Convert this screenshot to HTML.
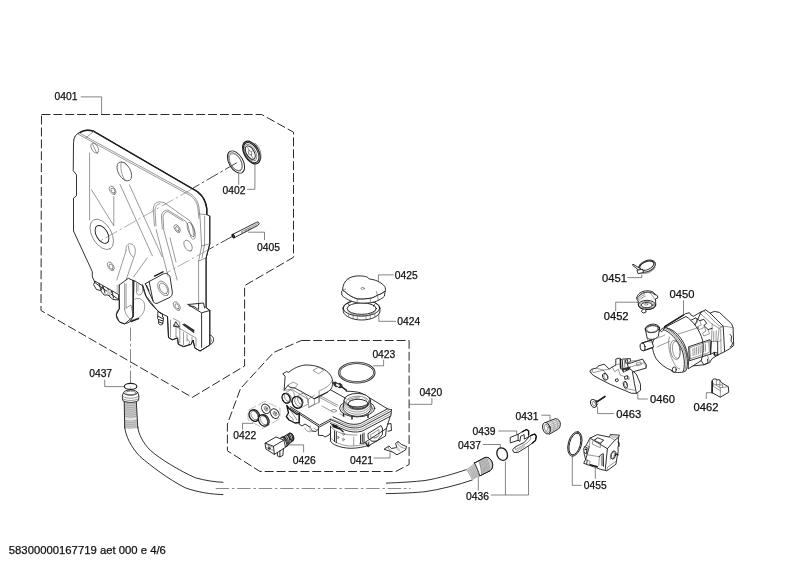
<!DOCTYPE html>
<html lang="en">
<head>
<meta charset="utf-8">
<title>Exploded parts diagram 58300000167719</title>
<style>
html,body{margin:0;padding:0;background:#fff;}
body{width:800px;height:566px;overflow:hidden;}
svg{display:block;filter:grayscale(1);}
svg text{font-family:"Liberation Sans",Arial,Helvetica,sans-serif;font-size:10.3px;fill:#111;stroke:#111;stroke-width:0.25px;}
.o{fill:none;stroke:#1a1a1a;stroke-width:0.9;stroke-linejoin:round;stroke-linecap:round;}
.w{fill:#fff;stroke:#1a1a1a;stroke-width:0.9;stroke-linejoin:round;stroke-linecap:round;}
.t{fill:none;stroke:#555;stroke-width:0.6;stroke-linejoin:round;stroke-linecap:round;}
.tw{fill:#fff;stroke:#555;stroke-width:0.6;stroke-linejoin:round;}
.k{fill:none;stroke:#1c1c1c;stroke-width:1.45;stroke-linejoin:round;stroke-linecap:round;}
.g{fill:#cdcdcd;stroke:none;}
.dk{fill:#333;stroke:none;}
.d{fill:none;stroke:#2a2a2a;stroke-width:1;stroke-dasharray:8.9 3;}
.c{fill:none;stroke:#4a4a4a;stroke-width:0.65;stroke-dasharray:13.4 2.8 2.5 2.8;}
.cl{fill:none;stroke:#777;stroke-width:0.6;stroke-dasharray:13.4 2.8 2.5 2.8;}
.l{fill:none;stroke:#333;stroke-width:0.6;}
.wf{fill:#fff;stroke:none;}
.k2{fill:none;stroke:#111;stroke-width:1.3;stroke-linejoin:round;}
.hx{fill:none;stroke:#888;stroke-width:0.55;stroke-dasharray:9 2.5;}
.tl{fill:none;stroke:#888;stroke-width:0.5;}
.t2{fill:none;stroke:#333;stroke-width:0.7;}
.k1{fill:none;stroke:#111;stroke-width:1.1;}
.cd{fill:none;stroke:#222;stroke-width:0.85;stroke-dasharray:13.4 2.8 2.5 2.8;}
.cl0{fill:none;stroke:#999;stroke-width:0.5;}
</style>
</head>
<body>
<svg width="800" height="566" viewBox="0 0 800 566">
<rect x="0" y="0" width="800" height="566" fill="#fff"/>
<path class="d" d="M41.5,114.5 L261.7,114.5 L293.5,132.2 L293.5,257.3 L244.6,285.6 L244.6,366.0 L192.3,397.4 L41.0,310.5 Z"/>
<path class="d" d="M301.4,340.5 L409.1,340.5 L409.1,464.5 L395.7,471.5 L260.0,471.5 L227.4,450.8 L227.4,424.0 L240.5,388.6 L273.6,352.5 Z"/>
<text x="54.5" y="99.9">0401</text>
<text x="222.5" y="194.3">0402</text>
<text x="257.0" y="251.3">0405</text>
<text x="89.2" y="377.3">0437</text>
<text x="233.3" y="439.4">0422</text>
<text x="292.8" y="463.8">0426</text>
<text x="350.1" y="463.5">0421</text>
<text x="372.4" y="358.4">0423</text>
<text x="419.4" y="395.7">0420</text>
<text x="394.8" y="278.5">0425</text>
<text x="397.3" y="325.3">0424</text>
<text x="515.5" y="419.7">0431</text>
<text x="472.6" y="435.3">0439</text>
<text x="458.0" y="448.6">0437</text>
<text x="466.0" y="500.0">0436</text>
<text x="583.8" y="488.9">0455</text>
<text x="602.0" y="281.9" style="font-size:11.2px">0451</text>
<text x="669.5" y="297.7" style="font-size:11.2px">0450</text>
<text x="603.7" y="319.8" style="font-size:11.2px">0452</text>
<text x="650.1" y="403.3" style="font-size:11.2px">0460</text>
<text x="616.3" y="417.8" style="font-size:11.2px">0463</text>
<text x="693.6" y="410.8" style="font-size:11.2px">0462</text>
<text x="8.8" y="554.2" style="font-size:11.3px">58300000167719 aet 000 e 4/6</text>
<path class="l" d="M80.8,96.9 L101.6,96.9 L101.6,113.9"/>
<path class="l" d="M238.7,173.3 L238.7,184.8"/>
<path class="l" d="M254.9,163.5 L254.9,189.3 L247.2,189.3"/>
<path class="l" d="M248.1,232.2 L264.5,232.2 L264.5,239.9"/>
<path class="l" d="M104.7,379.8 L104.7,386.6 L124.0,386.6"/>
<path class="l" d="M242.5,429.6 L242.5,423.3 L253.0,423.3"/>
<path class="l" d="M287.3,444.9 L303.6,444.9 L303.6,452.4"/>
<path class="l" d="M373.6,458.0 L390.0,458.0 L390.0,452.4"/>
<path class="l" d="M383.6,359.6 L383.6,365.8 L373.0,365.8"/>
<path class="l" d="M409.5,404.3 L431.9,404.3 L431.9,398.1"/>
<path class="l" d="M393.8,274.9 L378.4,274.9 L378.4,282.8"/>
<path class="l" d="M396.0,321.3 L378.8,321.3 L378.8,311.9"/>
<path class="l" d="M541.3,415.2 L550.0,415.2 L550.0,420.2"/>
<path class="l" d="M498.4,431.0 L516.7,431.0 L516.7,434.7"/>
<path class="l" d="M482.8,444.5 L500.4,444.5 L500.4,448.5"/>
<path class="l" d="M490.8,495.0 L528.5,495.0 L528.5,442.8"/>
<path class="l" d="M505.4,495.0 L505.4,461.6"/>
<path class="l" d="M478.3,475.4 L478.3,490.5"/>
<path class="l" d="M572.3,455.9 L572.3,485.3 L581.6,485.3"/>
<path class="l" d="M595.3,467.9 L595.3,478.8"/>
<path class="l" d="M627.3,277.6 L641.8,277.6 L641.8,274.6"/>
<path class="l" d="M683.5,300.2 L683.5,315.3"/>
<path class="l" d="M615.7,311.0 L615.7,302.2 L638.3,302.2"/>
<path class="l" d="M647.8,399.0 L637.8,399.0 L637.8,392.7"/>
<path class="l" d="M614.0,413.6 L597.6,413.6 L597.6,406.5"/>
<path class="l" d="M706.3,399.0 L706.3,392.7 L713.1,392.7"/>
<path class="w" d="M73.5,142.5 C73.5,136 77,133.5 80.3,132.3 C84,130 88,129.3 93.8,131.3 L191.8,188.3 C199,191.5 205.5,198 206.8,208.6 L206.8,214.6 L209.8,216.1 L209.8,243.8 L206.1,258 L206.1,307.5 L209.8,310.5 L209.8,345 L200.1,351 L194.8,348 L193,340 L191.1,344.3 L183.6,346.6 L178.3,344.3 L177.5,338 L172.3,339.8 L168.5,337.6 L167.5,316.5 L160,313 L156.1,309 L146,296 L143,286 L134,280.5 L133.1,316.6 L124.6,324 L119.3,321.8 L116.3,315 L119.3,309 L119.3,300 L95.3,283 L92.3,276.8 L92.3,271.6 L73.5,231 L73.5,198.1 L76.5,195.8 L76.5,174.8 L73.5,171 Z"/>
<path class="k" d="M80.3,132.3 C84,130 88,129.3 93.8,131.3 L191.8,188.3 C199,191.5 205.5,198 206.8,208.6 L206.8,214.6"/>
<path class="o" d="M209.8,216.1 L209.8,243.8 L206.1,258 L206.1,307.5"/>
<path class="t" d="M73.5,142.5 C74,137.5 76,134 79,132.8 L191.1,194.2 C196,197.5 198.8,203 199.3,210 L200.1,218.3 L201.6,246 L198.6,261 L198.6,304"/>
<path class="t" d="M78.2,134.2 L190.3,195.6 C195,198.5 197.6,204 198.1,210 L198.9,218.3"/>
<path class="t" d="M93.8,131.3 L86,137.8"/>
<path class="t" d="M204.6,216 L204.6,244 L202,258"/>
<path class="t" d="M199.3,214 L206.8,214.6 M201.6,246 L209.8,243.8 M198.6,261 L206.1,258"/>
<ellipse class="t" rx="5.50" ry="3.17" transform="translate(94.8,148.2) rotate(60)"/>
<path class="t" d="M92.5,144 L96.5,152.5"/>
<ellipse class="t2" rx="10.40" ry="6.00" transform="translate(124.3,171.4) rotate(60)"/>
<path class="t" d="M121.5,162 C120,167 121,175 125.5,181 M124.5,162.5 L127.5,165.5"/>
<ellipse class="t" rx="4.60" ry="2.65" transform="translate(112.6,190.3) rotate(60)"/>
<ellipse class="t" rx="2.80" ry="1.62" transform="translate(113.0,190.6) rotate(60)"/>
<ellipse class="t" rx="16.70" ry="9.64" transform="translate(101.8,234.4) rotate(60)"/>
<ellipse class="o" rx="9.80" ry="5.65" transform="translate(102.0,234.4) rotate(60)"/>
<ellipse class="t" rx="4.70" ry="2.71" transform="translate(110.8,266.3) rotate(60)"/>
<ellipse class="t" rx="2.80" ry="1.62" transform="translate(111.1,266.6) rotate(60)"/>
<ellipse class="t" rx="4.30" ry="2.48" transform="translate(177.1,228.6) rotate(60)"/>
<ellipse class="t" rx="2.50" ry="1.44" transform="translate(177.3,228.8) rotate(60)"/>
<ellipse class="t" rx="6.00" ry="3.46" transform="translate(188.1,245.7) rotate(60)"/>
<ellipse class="t" rx="7.50" ry="3.20" transform="translate(191.1,229.5) rotate(70)"/>
<ellipse class="t" rx="4.80" ry="2.77" transform="translate(176.8,306.1) rotate(60)"/>
<ellipse class="t" rx="2.80" ry="1.62" transform="translate(177.0,306.3) rotate(60)"/>
<path class="t" d="M89.6,153 L89.6,219.8"/>
<path class="t" d="M91.5,189.8 L113.8,225.8 L113.8,196.5"/>
<path class="t" d="M120.1,184.6 L152.4,255.8"/>
<path class="t" d="M129.4,184.9 L162.1,256.6"/>
<path class="t" d="M147.1,258.1 L133.6,276.9"/>
<path class="t" d="M156.1,229.5 L168.1,276.1 M163.6,229.5 L177.2,280 M170,238 L176,262"/>
<path class="t" d="M154.5,226 L153.2,210 C153.4,204.5 156,202 159.5,201.8 L164,202.5 L189.6,220.6 C192,223 193,227 193.5,235 M156,226 L155,210.5 C155.2,206 157.5,204 160,203.8"/>
<path class="t" d="M162.3,229 L161.4,216 C162,212 164,210.6 167.8,210 L183.6,219.8 C186,221 188,224 188.5,227.5 L190.3,235 C191,239 193.5,240.5 195,238 C196,234 194,229 191,224"/>
<path class="t" d="M163.8,229 L163,217 C163.5,213.5 165,212 168,211.6 L183,221"/>
<path class="t" d="M126.1,250.6 C125.5,246 127.5,243.5 130.8,243.8 C134,244.3 136,248 135.1,253.6 L126.1,280 M126.1,250.6 L116.8,280 M128.5,246 C128.3,250 130,254.5 133,257"/>
<g transform="translate(0,1.8)">
<path class="o" d="M149.5,279.5 L163.5,272 C167,271 169,272.5 170,275 L172.3,290 C172.5,293 171.5,295 169,296 L157,301.6 C155,302 153.5,301 153,299 Z"/>
<path class="o" d="M145.3,282 L149.5,279.5 M145.3,282 L153,299 M146.5,283.5 L149,289"/>
<path class="k" d="M154.5,274.3 L163,270 "/>
<ellipse class="t" rx="8.00" ry="4.62" transform="translate(163.3,286.6) rotate(60)"/>
<ellipse class="t" rx="5.80" ry="3.35" transform="translate(163.5,286.6) rotate(60)"/>
</g>
<path class="o" d="M95.3,281.3 L118.6,294.5 L118.6,300 L113,299.5 L108,295 L104,295 L100.5,290.5 L96.5,289.5 L93.8,285 Z"/>
<path class="o" d="M99,283.5 L101,290.5 L103,286 L105,293 M108,288.5 L109.5,295.5 L112,291 L113.5,298"/>
<path class="g" d="M116.5,284.5 L119.3,285 L119.3,293.5 L116.5,292.5 Z M107,289 L111,291.5 L111,296 L107,294 Z"/>
<path class="o" d="M119.3,285 L119.3,309 C116,311 115.5,316 117.5,319.5 C120,323.5 125,325 129.8,321.8 L133.1,316.6"/>
<path class="o" d="M119.3,285 L128.3,278.3 L133.1,280.5"/>
<path class="k" d="M133.1,280.5 L133.1,316.6"/>
<path class="t" d="M124.6,283.5 L124.6,309 M126.1,284 L126.1,308 M124.6,309 C125,313 127,316.5 130,319 M126.1,308 L131,305 L133,315"/>
<path class="t" d="M133.5,300 C136,297.5 141,298 143.5,301.5 C145.5,305 145,311 142,314.5 C139.5,318 135,319.5 132,320"/>
<path class="k" d="M131,321.5 L138.5,318.6"/>
<path class="t" d="M136.5,283.5 L136.5,292.5 C137,295 139.5,295.5 141,294.5 L142.6,292 L142.6,285 M138,284.5 L138,291"/>
<path class="o" d="M142.6,285 C144,296 150,304 156.1,309 L160,313"/>
<path class="o" d="M158.2,311.5 L162.5,313.8 L162.5,317 L163.6,317.5 L163.2,321 L162.5,324.3 C161.5,325.3 159.5,325 158.8,323.8 L158.4,319.5 L157.6,318.5 L157.8,314 Z"/>
<path class="o" d="M158.4,316.5 L162.5,318.5 M158.5,319.5 L163,321 M158.7,322 L162.8,323.3"/>
<path class="o" d="M167.5,316.5 L168.5,337.6 L172.3,339.8 L177.5,338 L178.3,344.3 L183.6,346.6 L191.1,344.3 L193,340 L194.8,348 L200.1,351 L209.8,345 L209.8,310.5"/>
<path class="o" d="M201.6,313.5 L201.6,347.3 M188,304.5 L201.6,312.8 L209.8,310.5 M206.1,307.5 L209.8,310.5"/>
<path class="o" d="M188,304.5 L203.5,303 L204.6,308 M189.5,306 C193,305.5 196,307 198,309.5 M198.6,304 L198.6,309"/>
<path class="t" d="M170.5,320 L170.5,337 M173.5,318.5 L179.8,322 L179.8,343 M176,324.5 L176,337 M183.5,332.5 L183.5,345 M179.8,328.6 L196,338 L196,346 M173.5,325 L179.8,328.6 M187,334.5 L187,341 M192,337 L192,343"/>
<path class="dk" d="M182,324.6 L184.5,323.6 L194.5,330 L194,333.2 Z"/>
<path class="o" d="M176,322 L179.3,327 L173.8,326.3 Z"/>
<path class="t" d="M176,336.5 C178,337 178.5,339.5 177,341 M187.5,339.5 C190,340 190.3,343.5 188,345"/>
<path class="o" d="M209.8,335 C213,335.5 214.5,339 213,342 C212,344 210.5,344.5 209.8,344"/>
<path class="t" d="M209.8,338 C211.5,338.5 212,340.5 211,342"/>
<path class="cd" d="M236.7,162.8 L192,188.7"/>
<path class="cl" d="M192,189 L99,241.6"/>
<path class="cd" d="M232.6,236.3 L208.3,249.7"/>
<path class="cl" d="M208.3,249.7 L166.3,273"/>
<path class="c" d="M130.5,327.6 L130.5,387.5"/>
<path class="c" d="M215.7,488.5 L410.7,488.5"/>
<path class="o" d="M124.7,427 C125.5,436 131,447 140,456.5 C151,466 168,479 185.3,487.8 C198,492.5 212,494.3 223,494.6 M137.8,427 C138.5,434 143,443 150.2,450.2 C160,459 180,471 195.4,477.8 C205,480.5 215,482 223,482.3"/>
<path class="g" d="M124.2,402 L136.3,402 L137.8,428 L124.7,428 Z"/>
<path class="tl" d="M124.3,403.0 Q130.5,404.6 136.6,403.0"/>
<path class="tl" d="M124.3,404.9 Q130.5,406.5 136.6,404.9"/>
<path class="tl" d="M124.3,406.8 Q130.5,408.4 136.6,406.8"/>
<path class="tl" d="M124.3,408.7 Q130.5,410.3 136.6,408.7"/>
<path class="tl" d="M124.3,410.6 Q130.5,412.2 136.6,410.6"/>
<path class="tl" d="M124.3,412.5 Q130.5,414.1 136.6,412.5"/>
<path class="tl" d="M124.3,414.4 Q130.5,416.0 136.6,414.4"/>
<path class="tl" d="M124.3,416.3 Q130.5,417.9 136.6,416.3"/>
<path class="tl" d="M124.3,418.2 Q130.5,419.8 136.6,418.2"/>
<path class="tl" d="M124.3,420.1 Q130.5,421.7 136.6,420.1"/>
<path class="tl" d="M124.3,422.0 Q130.5,423.6 136.6,422.0"/>
<path class="tl" d="M124.3,423.9 Q130.5,425.5 136.6,423.9"/>
<path class="tl" d="M124.3,425.8 Q130.5,427.4 136.6,425.8"/>
<path class="tl" d="M124.3,427.7 Q130.5,429.3 136.6,427.7"/>
<path d="M124.3,417 Q130.5,419.5 136.9,417 L137,419.3 Q130.5,421.8 124.4,419.3 Z" fill="#e8e8e8"/>
<path class="o" d="M124.2,401 L124.7,428 M136.3,401 L137.8,428"/>
<path class="w" d="M123.7,392.6 C122,394.5 122,397.5 122.8,400.5 C126,403 135,403 138.4,400.5 C139.2,397.5 139.2,394.5 137.7,392.6"/>
<ellipse class="w" cx="130.7" cy="392.6" rx="7" ry="2.6"/>
<ellipse class="t" cx="130.7" cy="392.9" rx="5.2" ry="1.7"/>
<path class="t" d="M122.3,396.5 Q130.5,400.3 138.9,396.5 M122.6,398.8 Q130.5,402.5 138.6,398.8"/>
<ellipse cx="130.6" cy="386.4" rx="6.3" ry="3.0" fill="none" stroke="#1a1a1a" stroke-width="1.1"/>
<path class="o" d="M386.4,483.1 C400,482.6 415,481.7 425,480.5 C438,478.5 455,473.5 466.3,469.6 M386.4,493.6 C402,493.4 416,492.6 425,491.7 C440,489.5 458,485 472.3,480"/>
<path class="g" d="M466.3,469.6 L474.5,463 L480,475.9 L472.3,480 Z"/>
<path class="tl" d="M466.3,469.6 Q471.1,475.4 472.3,480.0"/>
<path class="tl" d="M467.9,468.3 Q472.6,474.4 473.6,479.3"/>
<path class="tl" d="M469.5,467.1 Q474.0,473.4 474.9,478.5"/>
<path class="tl" d="M471.1,465.8 Q475.4,472.4 476.1,477.8"/>
<path class="tl" d="M472.8,464.5 Q476.9,471.4 477.4,477.1"/>
<path class="tl" d="M474.4,463.3 Q478.4,470.4 478.7,476.3"/>
<path class="tl" d="M476.0,462.0 Q479.8,469.4 480.0,475.6"/>
<path class="w" d="M474.5,463 L485,457.5 C489,456.5 492,460 492.7,464.5 C493,468 491,471 488,471.8 L479.8,475.9 C478.5,471.5 476.5,467 474.5,463 Z"/>
<path class="g" d="M479.5,461 L485.8,458 C489.5,457.5 492,461 492.3,465 C492.4,468 491,470.5 488,471.3 L482.2,474 Z"/>
<path class="tl" d="M479.5,460.8 Q483.2,468.4 482.3,474.3"/>
<path class="tl" d="M480.7,460.3 Q484.4,467.8 483.5,473.8"/>
<path class="tl" d="M481.8,459.7 Q485.6,467.3 484.7,473.3"/>
<path class="tl" d="M483.0,459.2 Q486.8,466.8 485.9,472.8"/>
<path class="tl" d="M484.2,458.7 Q487.9,466.3 487.1,472.2"/>
<path class="tl" d="M485.3,458.1 Q489.1,465.7 488.3,471.7"/>
<path class="tl" d="M486.5,457.6 Q490.3,465.2 489.5,471.2"/>
<path class="o" d="M474.5,463 L485,457.5 C489,456.5 492,460 492.7,464.5 C493,468 491,471 488,471.8 L479.8,475.9"/>
<path class="t" d="M478.6,460.8 C480.5,465 481.5,470 481.5,474.8"/>
<ellipse rx="5.1" ry="6.5" transform="translate(502.2,454.1) rotate(-25)" fill="none" stroke="#1a1a1a" stroke-width="1.3"/>
<ellipse cx="356.8" cy="372.6" rx="17.6" ry="9.8" fill="none" stroke="#222" stroke-width="2.3"/>
<ellipse cx="356.8" cy="372.6" rx="17.6" ry="9.8" fill="none" stroke="#fff" stroke-width="0.7"/>
<path class="wf" d="M330.5,389.3 L346.1,391.2 L360.2,392.7 L365.3,395.2 L387.4,408.8 L391.5,409.8 L390.8,416 L358.5,431.5 C352,432 346,430 330.5,423 L319.4,427 L290.2,408.2 L290.2,400 Z"/>
<path class="o" d="M346.1,391.2 C352,391.3 357,391.8 360.2,392.7 L365.3,395.2 L387.4,408.8 L391.5,409.8"/>
<path class="o" d="M387.4,408.8 L361,423.2 C356,425 350,424.5 345.1,422.5 L333,416.8"/>
<path class="t" d="M389,410.2 L361.5,425 C356,427 350,426.3 345.1,424.2 L331,418.8"/>
<path class="o" d="M390.5,411.5 L361.8,426.8 C356,428.8 350,428 345,426 L330.5,419.5"/>
<path class="t" d="M391.2,413.5 L362,429 C356,430.8 350,430 345,428 L330.5,422"/>
<path class="o" d="M391.5,409.8 L390.8,416 L362,431.2 C356,432.8 350,432 345,430 L330.5,423.5"/>
<path class="t" d="M319.4,397.3 L336.5,406.4 M320.4,396 L338,405.3"/>
<ellipse class="t" cx="334" cy="410.8" rx="2.4" ry="1.4"/>
<path class="t" d="M322,406 L332,411.5 M340,414 L345,416.5"/>
<ellipse class="w" cx="357.2" cy="408.3" rx="17.6" ry="8.6"/>
<ellipse class="t" cx="357.2" cy="408.6" rx="15.6" ry="7.4"/>
<path class="w" d="M344.1,400.2 L343.2,408.5 C345,414 352,416.3 357.2,416.3 C363,416.3 369.5,414 371.2,408.5 L370.3,400.2 Z"/>
<path class="t" d="M343.6,404 C346,410 352,412 357.2,412 C363,412 368.5,410 370.8,404 M343.3,406.3 C346,412.2 352,414.2 357.2,414.2 C363,414.2 368.5,412.2 371,406.3 M343.9,402 C346,408 352,409.8 357.2,409.8 C363,409.8 368.5,408 370.6,402"/>
<ellipse class="w" cx="357.2" cy="400.2" rx="13.1" ry="6.8"/>
<ellipse class="t" cx="357.6" cy="401.6" rx="11.3" ry="5.5"/>
<path class="o" d="M347.5,404.5 C349,408 353,409.2 358.2,409.2 C363,409.2 367,407.5 368.3,404.6"/>
<ellipse class="o" cx="358.2" cy="403.8" rx="10" ry="4.5"/>
<path class="t" d="M348.5,399.5 L359,396.6 M349,400.8 L359.5,397.9 M365,398.5 L366.5,400.5"/>
<path class="k" d="M343.5,414 L343.5,416 M352,417 L352,419 M368,415.2 L368,417.4"/>
<path class="w" d="M283.1,373.6 L286.6,371.6 L288.8,372.3 C293,368.5 300,365.2 306,365 C316,364.8 326,368.5 330.5,375.2 C333,379 333.2,384 331.8,387.5 L330.5,389.8 C326,393.5 320,396.5 314.3,398.8 L295.2,388.2 L290.2,387.5 L288.1,385.2 L284.1,390.3 L285.1,376.7 Z"/>
<path class="t" d="M331.8,381 C331,384.5 326,388 320,390.5 M319.1,390.8 L319.1,402.4"/>
<path class="t" d="M313.3,370.1 L318.4,367.3 L323.9,370.1 L318.9,373.6 Z"/>
<path class="t" d="M288.1,385.0 L293.2,382.0 L297.7,384.4 L295.2,387.7 L290.2,387.2 Z"/>
<path class="o" d="M314.3,398.8 L319.4,395.8 L327.5,392.2 M330.5,389.8 L346,398.5"/>
<path class="t" d="M284.1,390.3 L291.7,389.3 L308.3,399.3 L308.8,407.4 L314.5,404 L314.3,398.8 M308.3,399.3 L314.3,395.5 M308.8,407.4 L319.1,402.4 L319.1,396"/>
<path class="dk" d="M332.5,382.2 L335.5,381.5 L338,383.2 L340,382.8 L342.6,385 L341.8,388 L339,388.2 L337.5,387 L335.5,387.2 L333.5,385 Z"/>
<path d="M336.5,383.5 L339.8,385.2 L339,387 L335.8,385.3 Z" fill="#fff"/>
<path class="k" d="M341.8,386.8 L346.5,390.3"/>
<path class="t" d="M284.6,393.6 L290.5,389.8 M288.3,403.2 L293.5,400 M295.5,396.8 L302.5,393.3 M300,408.2 L307.8,404.2"/>
<path class="t" d="M290.5,389.8 C293.5,390.5 295,394 294.3,397.2 M302.5,393.3 C306,394 308.2,398 307.6,402.5"/>
<ellipse class="w" cx="286.1" cy="398.3" rx="3.8" ry="5" transform="rotate(-25 286.1 398.3)"/>
<ellipse class="k1" cx="286.1" cy="398.3" rx="3.8" ry="5" transform="rotate(-25 286.1 398.3)"/>
<ellipse class="t" cx="287.8" cy="397.3" rx="3.0" ry="4.3" transform="rotate(-25 287.8 397.3)"/>
<ellipse class="w" cx="297.2" cy="402.4" rx="5" ry="6" transform="rotate(-25 297.2 402.4)"/>
<ellipse class="k1" cx="297.2" cy="402.4" rx="5" ry="6" transform="rotate(-25 297.2 402.4)"/>
<ellipse class="t" cx="298.9" cy="401.4" rx="4.0" ry="5.1" transform="rotate(-25 298.9 401.4)"/>
<ellipse class="t" cx="300.3" cy="400.7" rx="2.2" ry="3.8" transform="rotate(-25 300.3 400.7)"/>
<path class="k2" d="M286.8,405.5 L289.5,409 L297,414.5 L299.2,413.5 L299.2,422.5 L295,423 L289,420 L286.3,416.5 L288.5,413 Z"/>
<path class="t" d="M289,415.5 L293,418.5 L293,421.5 M290.3,410 L297,420"/>
<path class="o" d="M290.2,406.6 L319.4,425.2 L330.5,419.2 M290.2,408.2 L319.4,427 L330.5,421"/>
<path class="o" d="M299.2,413.1 L299.2,424.2 L302,426 L305,424 L310.5,427.5 L312,431 L316,431.5 L318.4,429 M318.4,426.2 L318.4,435.3 L323,435.6 L325,437 L329,435 L330.5,433"/>
<path class="t" d="M305,428.5 C306,431 309,432.5 311.5,431.5 M310.3,426 L310.3,430.5 M313.8,428.2 L316.8,430"/>
<path class="g" d="M309.5,427 L311.5,428 L311.5,431.5 L309.5,430.5 Z"/>
<path class="o" d="M330.5,426.2 L330.5,441 C332,444.5 340,447.8 350.2,448.3 C358,448.3 364,447 368.3,445.3 L369,442"/>
<path class="t" d="M331.5,438.5 C334,442.5 342,445.5 350.2,446 C358,446 364,444.8 367.5,443 M353.7,437.2 L353.7,445.5 M331,427 C336,432.5 345,435.5 357,435"/>
<path class="o" d="M334.5,431 L334.5,441.5 M336.3,432 L336.3,442.8"/>
<path class="k" d="M333,426.5 L340,429 L343,431.5 M332,424.8 L337,426.2"/>
<ellipse class="t" cx="338" cy="437.5" rx="0.9" ry="1.3"/>
<ellipse class="t" cx="343.5" cy="434" rx="0.9" ry="1.3"/>
<ellipse class="t" cx="343.3" cy="439.5" rx="0.9" ry="1.3"/>
<path class="o" d="M390.2,416.5 L386.4,428.5 L364,443 L360,443.5 M386.4,428.5 L385.5,436 L369,445.5"/>
<path class="o" d="M368.3,433.5 L381,425.5 L382.4,428 L382.4,434.5 L377,441 L372,441.3 L368.5,438.5 Z"/>
<path class="t" d="M371,434.5 L379,429.5 L379,435.5 L375,438 L371,437.5 Z M373,436.5 C374,438.5 377,438.5 377.8,436.5"/>
<path class="o" d="M360.5,435 L360.5,443 M362.3,434 L362.3,442 M364,433 L364,443"/>
<path class="o" d="M387.4,424.1 L391,423.5 L391.5,430.5 L388,431.2"/>
<path class="k" d="M366,443 L368,446.5 L369.5,445.5"/>
<path class="o" d="M384.4,449 L389,446 L391.5,448.5 L397,447.5 L395.5,443.5 L398,441.5 L401.5,444.5 L406.6,446.5 L405.5,450 L397,454.8 L393,452.3 Z"/>
<path class="t" d="M389,446 L388.2,448.2 L392.5,452 M397,447.5 L399.5,450.8 M398,441.5 L397.5,443.8 L400.5,447 L405,448.5"/>
<path class="g" d="M396,447.7 L398.5,447.2 L400.5,450.3 L398,451 Z"/>
<ellipse class="o" rx="12.2" ry="7.05" transform="translate(236,162) rotate(60)"/>
<ellipse class="t" rx="10" ry="5.6" transform="translate(235.3,161.7) rotate(60)"/>
<ellipse class="t" rx="9.6" ry="5.2" transform="translate(235.8,162.3) rotate(60)"/>
<ellipse class="w" rx="12.4" ry="7.3" transform="translate(251.5,152.6) rotate(60)" style="stroke-width:1.2"/>
<ellipse class="o" rx="11.0" ry="6.3" transform="translate(251.2,152.6) rotate(60)"/>
<ellipse class="t" rx="9.2" ry="5.0" transform="translate(250.6,152.6) rotate(60)"/>
<ellipse class="o" rx="7.4" ry="3.9" transform="translate(250.3,152.6) rotate(60)"/>
<ellipse class="t" rx="2.6" ry="1.4" transform="translate(250.1,152.8) rotate(60)"/>
<path class="t" d="M247.5,147 L249.3,151 M252.8,158 L251,154.5 M247,155.2 L249,153.6 M253.3,150.3 L251.3,151.8"/>
<path class="t" d="M254,143.5 C258,146.5 260.5,152 260,158 M255.2,143.2 C259.3,146.5 261.6,152 261,158.5"/>
<path class="w" d="M232.2,234.6 L256.6,222.3 C258.2,221.7 259.4,222.6 259.1,223.8 C258.9,224.6 258.3,225.2 257.5,225.6 L234.4,237.7 Z"/>
<path class="t" d="M241.6,231.8 L257.5,223.6 M241.9,233.2 L258.4,224.7 M241.6,231.8 L241.9,233.4 M245,230.2 L245.6,231.2 M246.6,229.4 L247.2,230.4 M248.2,228.6 L248.8,229.6 M249.8,227.8 L250.4,228.8"/>
<ellipse class="k2" rx="0.9" ry="1.7" transform="translate(233.3,236.1) rotate(-25)"/>
<path class="hx" d="M248.1,410.3 L265.0,401.3 L280.0,408.4 L280.0,418.5 L263.1,428.3 L248.1,420.0 Z"/>
<ellipse class="w" rx="4.0" ry="5.8" transform="translate(255.29999999999998,415.0) rotate(-30)" style="stroke-width:1.1"/>
<ellipse class="w" rx="4.3" ry="6.0" transform="translate(253.79999999999998,415.7) rotate(-30)" style="stroke-width:1.25"/>
<ellipse class="t" rx="3.1" ry="4.8" transform="translate(254.6,415.4) rotate(-30)"/>
<ellipse class="w" rx="4.0" ry="5.8" transform="translate(264.7,419.9) rotate(-30)" style="stroke-width:1.1"/>
<ellipse class="w" rx="4.3" ry="6.0" transform="translate(263.2,420.59999999999997) rotate(-30)" style="stroke-width:1.25"/>
<ellipse class="t" rx="3.1" ry="4.8" transform="translate(264.0,420.29999999999995) rotate(-30)"/>
<ellipse class="o" rx="3.9" ry="5.1" transform="translate(265.8,408.8) rotate(-30)"/>
<ellipse class="t" rx="1.6" ry="2.5" transform="translate(266.0,408.8) rotate(-30)"/>
<ellipse class="t" rx="0.7" ry="1.2" transform="translate(266.0,408.8) rotate(-30)"/>
<ellipse class="o" rx="3.9" ry="5.1" transform="translate(274.8,413.6) rotate(-30)"/>
<ellipse class="t" rx="1.6" ry="2.5" transform="translate(275.0,413.6) rotate(-30)"/>
<ellipse class="t" rx="0.7" ry="1.2" transform="translate(275.0,413.6) rotate(-30)"/>
<path class="g" d="M282.9,437.2 L289.5,433.2 C292.5,433 294,436 293.5,440.3 L287.5,445.3 Z"/>
<path class="o" d="M282.9,437.2 L289.5,433.2 C292.5,433 294.2,436 293.5,440.3 L287.5,445.3"/>
<ellipse class="o" rx="2.1" ry="3.7" transform="translate(291.3,436.8) rotate(-25)"/>
<path class="o" d="M284.0,436.6 C286.2,438.6 287.2,441.6 286.8,444.6"/>
<path class="o" d="M285.5,435.7 C287.7,437.7 288.7,440.7 288.3,443.7"/>
<path class="o" d="M287.0,434.8 C289.2,436.8 290.2,439.8 289.8,442.8"/>
<path class="o" d="M288.5,433.9 C290.7,435.9 291.7,438.9 291.3,441.9"/>
<path class="o" d="M290.0,433.0 C292.2,435.0 293.2,438.0 292.8,441.0"/>
<ellipse class="w" rx="2.4" ry="5.2" transform="translate(284.6,441.6) rotate(-25)"/>
<ellipse class="w" rx="2.4" ry="5.2" transform="translate(283.6,442.2) rotate(-25)"/>
<path class="w" d="M265.3,443.1 L275.9,437.0 L283.9,440.1 L285.5,447.3 L274.4,454.4 L266.3,449.3 Z"/>
<path class="o" d="M265.3,443.1 L273.4,446.3 L274.4,454.4 M273.4,446.3 L283.9,440.1"/>
<path class="o" d="M277.4,452.6 L277.4,455.9 L279.9,456.9 L282.9,455.4 L283.4,448.8 M279.9,456.9 L279.9,451"/>
<path class="t" d="M266.2,447.5 L273.6,450.5 M268.5,446.2 L268.8,450.5 M266.8,444.8 L272.2,447"/>
<ellipse class="o" rx="0.8" ry="0.8" transform="translate(269.3,448.2) rotate(0)"/>
<path class="w" d="M343.1,308.3 L343.3,311.8 C344.5,316 352,320 361.7,320 C371,320 378.5,316.5 379.9,312 L379.9,308.3 C379.9,303.8 371.5,300 361.7,300 C352,300 343.1,303.8 343.1,308.3 Z"/>
<ellipse class="o" rx="18.4" ry="8.1" transform="translate(361.5,308.1) rotate(0)"/>
<ellipse class="o" rx="14.6" ry="5.8" transform="translate(361.7,308.6) rotate(0)"/>
<path class="t" d="M347.6,309.5 C349,313.3 355,315.8 361.7,315.8 C368.5,315.8 374.5,313.5 376,310"/>
<path class="o" d="M348.3,303.6 L349.2,305.4 M374.3,304.6 L373.6,306.2"/>
<path class="t" d="M353,315.2 L353.2,318.7 M357.3,316.2 L357.4,319.6 M366,316.2 L366,319.7 M370.3,315.3 L370.3,318.8 M348.5,313 L348.7,316.3 M374.8,313.2 L374.8,316.5"/>
<path class="w" d="M342.6,290.2 L341.6,291.2 L341.9,295.2 C345,298.6 351,301.6 357.2,302.8 C361,303.2 366,303.2 370.3,302.8 C373.5,302.3 376,301.5 378.4,300.3 C381,299 383,297.7 384.4,296.2 L385.2,291.2 L384,291.8 C382,293.4 380,294.4 377.4,295.2 C375,296.7 373,297.6 370.3,298.2 C366,298.9 361,299 357.2,298.8 C352,297.2 348,294.6 345.1,291.7 Z"/>
<path class="w" d="M342.6,290.2 C342.5,285 345,281 348.1,278.6 C352,276.3 356,275.8 360.2,275.9 C363,276 365.5,276.4 367.3,277.1 L369.2,279 C373,279.4 375.5,280.2 377.4,281.1 C381,282.8 383.5,284.6 384.9,286.7 C385.6,288.3 385.6,289.8 385.2,291.2 L384,291.8 C382,293.4 380,294.4 377.4,295.2 C375,296.7 373,297.6 370.3,298.2 C366,298.9 361,299 357.2,298.8 C352,297.2 348,294.6 345.1,291.7 Z"/>
<path class="t" d="M357.2,298.8 L357.2,302.8 M377.4,295.2 L378.4,300.3 M370.3,298.2 L370.3,302.8 M348.1,278.6 L349.5,280.2 M342.6,290.2 L345.6,289 M376.3,291.3 L377.4,295.2"/>
<ellipse class="t" rx="1.8" ry="1" transform="translate(362.7,288.4) rotate(0)"/>
<path d="M545.3,422.6 L555.4,418.6 C558.5,418.8 560.6,421.5 560.4,424.1 C560.3,426.5 559.5,428 558.4,429.1 L549.3,434.2 C546,434 543,431 543,427.5 C543,425.5 544,423.5 545.3,422.6 Z" fill="#e2e2e2"/>
<path class="o" d="M545.3,422.6 L555.4,418.6 C558.5,418.8 560.6,421.5 560.4,424.1 C560.3,426.5 559.5,428 558.4,429.1 L549.3,434.2"/>
<path class="tl" d="M548.2,423.2 L557.5,419.4"/>
<path class="tl" d="M549.6,424.8 L559.3,420.8"/>
<path class="tl" d="M550.3,426.6 L560.2,422.6"/>
<path class="tl" d="M550.4,428.4 L560.3,424.6"/>
<path class="tl" d="M550.2,430.2 L559.8,426.4"/>
<path class="tl" d="M549.8,432 L559,428.2"/>
<path class="tl" d="M552.5,421.5 C554.5,424 554.8,428.5 553,432 M556,420 C558,422.5 558.3,427 556.6,430.2"/>
<ellipse class="w" rx="3.7" ry="5.9" transform="translate(546.5,428.2) rotate(-18)"/>
<ellipse class="t" rx="2.4" ry="4.3" transform="translate(546.8,428.3) rotate(-18)"/>
<path class="t" d="M546,425.5 L548,428 L546.8,431"/>
<path class="w" d="M510.6,437.3 L518.1,434.3 L521.9,432.0 L526.4,429.5 L528.6,431.0 L528.6,436.8 L524.4,439.1 L524.1,434.6 L520.7,436.2 L519.9,441.3 L518.1,440.3 L510.6,442.8 Z"/>
<path class="o" d="M518.1,434.3 L518.1,440.3"/>
<path class="k2" d="M521.9,432.0 L526.4,429.5 L528.6,431.0 L528.6,435.0"/>
<path class="w" d="M512.8,449.6 L515.1,447.0 L524.1,442.5 L530.1,435.8 L534.6,434.0 L536.3,436.2 L535.5,440.4 L530.1,444.9 L518.1,452.4 L514.2,452.4 Z"/>
<path class="k2" d="M530.1,435.8 L534.6,434.0 L536.3,436.2 L535.5,440.4 L531.9,443.4"/>
<path class="t" d="M515.1,447.3 L515.5,449.7 L527.1,443.0 L530.7,439.2 L530.4,436.2"/>
<path class="t" d="M516.6,451.1 L524.1,446.7"/>
<path class="g" d="M518.1,448.5 L524.9,444.5 L525.0,446.3 L518.3,450.5 Z"/>
<ellipse class="o" rx="12.6" ry="6.6" transform="translate(574.9,443.9) rotate(-75)"/>
<ellipse class="o" rx="11.3" ry="5.4" transform="translate(574.9,443.9) rotate(-75)"/>
<ellipse class="o" rx="8.9" ry="5.4" transform="translate(646.9,266.1) rotate(-22)"/>
<ellipse class="t" rx="8.7" ry="5.1" transform="translate(647.1,266.9) rotate(-22)"/>
<ellipse class="o" rx="7.4" ry="4.1" transform="translate(646.8,265.6) rotate(-22)"/>
<path class="w" d="M638.8,270.3 L632.3,265 L633,264.2 L640.3,268.6"/>
<path class="w" d="M637.3,270.2 L642.5,269.2 L643.6,272.5 L638.5,273.6 Z"/>
<path class="t" d="M640,273.2 C646,274.8 652.5,272 655,267.5"/>
<path class="w" d="M636.9,298.0 C636.9,294.1 641.1,291.1 647.0,290.8 C650.7,290.7 653.8,291.8 654.9,294.1 L657.6,295.9 L657.7,298.0 L655.5,298.8 L655.8,304.9 C655.5,307.9 651.6,309.5 647.0,309.5 C642.4,309.5 638.7,307.9 638.3,304.9 L638.2,301.0 C637.1,300.2 636.8,299.1 636.9,298.0 Z"/>
<path class="o" d="M638.7,296.3 C640.4,293.2 644.5,292.2 647.9,292.2 C651.4,292.2 653.8,293.3 654.9,295.0"/>
<path class="t" d="M637.3,298.8 C638.3,295.9 641.1,293.9 644.5,293.2 M637.8,300.5 C638.7,297.7 641.5,295.5 644.8,294.7 M638.2,302.1 C639.3,299.4 642.0,297.2 645.2,296.3"/>
<path class="t" d="M649.3,292.5 C652.1,294.6 653.8,296.9 654.4,299.4"/>
<ellipse class="o" cx="647.0" cy="304.9" rx="8.6" ry="4.6"/>
<ellipse class="t" cx="647.0" cy="305.0" rx="7.1" ry="3.6"/>
<ellipse class="o" cx="646.8" cy="305.1" rx="5.6" ry="2.6"/>
<ellipse class="t" cx="646.1" cy="304.3" rx="1.6" ry="0.8"/>
<path class="w" d="M643.4,309.3 L641.2,311.1 L643.1,313.1 L646.1,312.0 L645.6,309.7"/>
<path class="w" d="M712.2,381.1 C712.3,379.3 713.3,378.8 714.8,378.9 L716.3,379.2 L717,380.3 L718,379.5 L719.8,380 L721.3,382.6 L728.3,386.7 L728.8,392.2 L720.3,397.2 L712.2,392.7 Z"/>
<path class="t" d="M713.2,383.6 L720.3,387.7 L728.3,386.7 M720.3,387.7 L720.3,397.2 M713.2,383.6 L713.4,386.5 L720.3,390.7 M716.3,379.2 L716.5,384.8 M719.8,380 L719.8,386.5 M722.5,385 L722.5,387.3 M716,384.5 L722.3,384.9"/>
<path class="k" d="M712.2,381.1 L712.2,392.7"/>
<path class="k" d="M596.3,402 L604.9,396.3"/>
<path class="o" d="M596.6,402.6 L605.2,396.9"/>
<ellipse class="w" rx="2.9" ry="4.1" transform="translate(593.6,403.4) rotate(-25)"/>
<ellipse class="t" rx="1.5" ry="2.3" transform="translate(593.9,403.5) rotate(-25)"/>
<path class="o" d="M595.8,400.5 L597.2,401 M596,406 L597.6,404"/>
<path class="w" d="M701.6,311.7 L705.6,309.9 L710.1,313.1 L714.3,311.4 L719.4,312.4 L731.5,323.7 L733.1,327.6 L733.7,345.5 L730.1,348.5 L724.6,351.7 L717.7,355.1 L712.2,358.6 L709.4,362.7 L703.9,364.8 L690.1,366.2 L687.4,341.4 Z"/>
<path class="o" d="M710.1,313.1 L723.2,326.2 L724.6,351.3"/>
<path class="t" d="M723.2,326.2 L733.1,327.6"/>
<path class="t" d="M705.6,309.9 L699.8,313.1 L712.2,324.1 L719.1,328.3 L723.2,326.2"/>
<path class="t" d="M703.9,311.0 L717.7,324.8 L722.1,327.0"/>
<path class="t" d="M712.2,324.1 L711.5,341.4 L717.7,341.4 L719.1,328.3"/>
<path class="t" d="M713.8,331.7 L713.6,341.4"/>
<path class="t" d="M716.3,331.0 L716.0,341.4"/>
<path class="o" d="M717.7,341.4 L717.7,355.1"/>
<path class="t" d="M720.7,328.9 L721.1,353.1"/>
<path class="t" d="M719.1,341.4 L721.1,340.0"/>
<path class="o" d="M711.5,341.4 L710.5,354.4 L714.3,352.4 L717.7,353.1"/>
<path class="o" d="M730.1,334.5 L731.5,336.1 L731.1,341.4 L732.6,342.7 L731.5,346.2 L730.1,346.9"/>
<path class="k" d="M714.3,352.4 L714.3,355.1 L717.7,355.1"/>
<path class="o" d="M690.1,320.7 L695.6,317.9 L699.8,320.7 L703.9,319.3 L706.7,323.4 L703.9,325.5 L708.1,329.6 L712.2,328.3"/>
<path class="t" d="M695.6,317.9 L697.7,322.1 L694.3,324.1"/>
<path class="t" d="M699.8,320.7 L701.2,324.8 L697.7,326.9 L699.1,329.6 L703.9,327.6"/>
<path class="t" d="M703.9,325.5 L706.0,331.0 L702.5,333.1 L703.9,336.1 L709.4,333.8 L708.1,329.6"/>
<path class="t" d="M697.7,326.9 L694.3,328.3"/>
<path class="o" d="M664.6,326.9 L683.2,315.4 L685.3,313.8 L689.4,312.7 L690.8,314.9 L693.6,316.3 L697.7,313.8 L701.6,311.7"/>
<path class="k" d="M664.6,326.5 L683.2,315.2"/>
<path class="w" d="M664.6,327.6 L686.0,316.5 C692.9,320.7 699.8,330.3 702.5,340.0 C703.9,346.9 703.2,355.1 701.2,360.6 L688.1,368.9 C689.4,360.6 687.4,348.2 681.9,340.0 C676.4,331.7 669.5,327.6 664.6,327.6 Z"/>
<path class="t" d="M677.0,334.5 L698.4,327.6"/>
<path class="o" d="M689.0,346.6 L710.1,339.7 L710.8,354.0 L689.9,360.6 Z"/>
<path class="t" d="M690.1,347.6 L708.7,341.4 L709.4,352.4 L690.8,358.6 Z"/>
<path class="t" d="M692.9,348.5 L693.1,355.7"/>
<path class="t" d="M694.7,347.9 L694.9,355.1"/>
<path class="t" d="M696.5,347.3 L696.7,354.4"/>
<path class="t" d="M698.3,346.6 L698.5,353.8"/>
<path class="t" d="M700.1,346.0 L700.3,353.1"/>
<path class="t" d="M701.9,345.3 L702.1,352.5"/>
<path class="t" d="M703.6,344.7 L703.8,351.9"/>
<path class="t" d="M705.4,344.1 L705.6,351.2"/>
<path class="t" d="M690.1,347.6 L689.0,348.2 L689.4,359.3 L690.8,358.6"/>
<path class="o" d="M701.2,360.6 L703.9,364.8 L708.1,362.7 L707.4,359.3"/>
<path class="t" d="M703.9,355.1 L707.4,355.1 L710.1,362.7"/>
<path class="w" d="M664.6,327.3 C670.8,328.3 680.5,338.6 684.6,348.2 C688.1,357.9 688.1,366.2 686.0,370.6 C683.2,373.1 676.4,372.8 672.2,371.7 L671.1,370.0 C666.7,368.9 659.1,363.4 655.7,357.9 C652.2,351.0 651.5,344.1 653.6,340.0 C657.1,333.1 661.2,328.3 664.6,327.3 Z"/>
<path class="o" d="M663.3,329.6 C669.5,331.0 677.7,340.0 681.9,349.6 C684.9,358.6 684.9,366.2 683.2,371.4"/>
<path class="t" d="M664.2,328.3 C670.1,329.5 679.1,339.3 683.2,348.9 C686.6,358.2 686.6,366.2 684.6,371.1"/>
<path class="t" d="M669.5,336.9 C667.4,342.7 668.8,355.1 675.0,364.8 C676.4,367.5 678.4,368.9 679.8,368.9"/>
<ellipse class="t" rx="4.8" ry="9.8" transform="translate(675.2481047553412,349.89662301860784) rotate(-8)"/>
<ellipse class="t" rx="3.8" ry="8.6" transform="translate(676.3507925568573,349.89662301860784) rotate(-8)"/>
<path class="t" d="M657.1,346.9 L669.5,341.4"/>
<ellipse class="w" rx="2.0" ry="2.6" transform="translate(674.2832529290145,369.60716747070984) rotate(0)"/>
<path class="w" d="M645.3,328.9 L647.1,337.9 C649.5,340.2 655.7,340.0 658.4,336.1 L659.5,328.3 C658.4,324.8 646.7,324.1 645.3,328.9 Z"/>
<ellipse class="o" rx="7.0" ry="4.2" transform="translate(652.3673328738801,328.39421088904203) rotate(-8)"/>
<ellipse class="t" rx="5.6" ry="3.2" transform="translate(652.3673328738801,328.94555478980016) rotate(-8)"/>
<path class="o" d="M659.5,328.9 C660.5,333.1 662.6,332.4 664.2,328.3"/>
<path class="w" d="M642.2,343.0 L651.5,340.0 L653.6,346.9 L643.5,350.7 Z"/>
<path class="o" d="M642.2,343.0 L651.5,340.0 M643.5,350.7 L652.9,347.6"/>
<ellipse class="w" rx="2.5" ry="3.9" transform="translate(642.5809786354239,346.86423156443834) rotate(-10)"/>
<path class="t" d="M651.5,340.0 L662.6,336.1 L664.6,335.1"/>
<path class="t" d="M647.1,337.9 C647.4,341.4 649.5,342.7 652.2,342.0"/>
<path class="w" d="M590.1,370.7 L592.1,369.1 L596.6,368.1 L598.1,366.1 L604.2,364.1 L609.2,369.1 L612.2,367.1 L615.8,365.1 L615.8,359.1 L619.3,358.1 L621.3,359.6 L622.3,359.1 L630.4,358.6 L630.4,361.1 L627.4,364.1 L642.5,359.1 L646.5,365.1 L646.0,368.1 L633.4,371.7 L636.4,374.2 L640.5,384.3 L640.5,390.3 L636.4,393.3 L631.4,393.3 L624.3,390.3 L610.2,384.3 L600.2,379.2 L593.1,375.2 L591.6,373.7 Z"/>
<path class="t" d="M596.6,368.1 L603.2,370.2 L609.2,369.1"/>
<path class="t" d="M593.1,372.7 L603.2,370.2"/>
<path class="t" d="M592.1,369.1 L592.6,371.7 L590.6,372.7"/>
<path class="t" d="M603.2,370.2 L605.2,372.7"/>
<path class="o" d="M632.4,371.7 L634.4,383.2 L636.4,393.3"/>
<path class="t" d="M624.3,390.3 L627.4,388.8 L634.4,390.3"/>
<path class="t" d="M612.2,367.1 L614.8,371.7 L618.3,369.1 L620.3,375.2 L623.3,376.2"/>
<path class="t" d="M615.8,365.1 L619.8,363.6 L620.3,369.1"/>
<path class="k" d="M620.3,359.1 L620.8,368.1"/>
<path class="o" d="M622.3,360.1 L622.8,367.6"/>
<path class="t" d="M624.3,359.6 L624.8,366.6"/>
<path class="o" d="M627.4,364.1 L628.4,367.6 L633.4,371.7"/>
<path class="t" d="M628.4,367.6 L644.5,362.6"/>
<path class="t" d="M642.5,359.1 L644.5,362.6 L646.0,368.1"/>
<path class="t" d="M630.4,361.1 L639.4,360.1"/>
<path class="t" d="M636.4,363.1 L640.5,361.9 L641.5,364.6 L637.4,365.9 Z"/>
<path class="dk" d="M620.8,368.6 L630.4,366.6 L629.9,369.6 L623.3,372.7 Z"/>
<path d="M623.3,370.7 L625.8,369.6 L624.8,371.7 Z" fill="#fff"/>
<path class="o" d="M625.8,360.1 L627.4,359.6 L627.9,362.6 L626.1,363.1 Z"/>
<ellipse class="o" rx="2.5" ry="3.6" transform="translate(605.1889168765744,376.7002518891688) rotate(-20)"/>
<ellipse class="t" rx="1.9" ry="3.0" transform="translate(605.8942065491184,376.7002518891688) rotate(-20)"/>
<path class="o" d="M615.5,379.4 L617.5,378.7 L618.5,380.7 L616.5,381.7 Z"/>
<path class="o" d="M624.8,376.4 L627.4,375.7 L627.9,378.7 L625.3,379.2 Z"/>
<path class="t" d="M627.4,375.7 L628.9,376.7 L629.2,379.7 L627.9,378.7"/>
<ellipse class="o" rx="2.0" ry="3.6" transform="translate(625.3400503778338,384.76070528967256) rotate(-15)"/>
<ellipse class="t" rx="1.4" ry="2.8" transform="translate(625.8438287153652,384.76070528967256) rotate(-15)"/>
<path class="w" d="M590.2,438.1 L597.3,434.6 L609.4,437.1 L610.4,434.6 L619.4,435.1 L618.4,437.6 L618.4,442.1 L618.9,445.2 L617.9,447.2 L618.2,451.2 L617.4,455.2 L615.9,464.3 L606.9,470.8 L600.3,469.3 L595.3,467.3 L589.2,465.3 L583.7,463.3 L585.7,459.3 L584.2,454.2 L583.7,448.2 L586.2,445.2 Z"/>
<path class="o" d="M590.2,438.1 L593.2,440.1 L607.4,448.7 L614.9,440.1 L618.4,437.6"/>
<path class="o" d="M607.4,448.7 L605.3,469.3"/>
<path class="t" d="M609.4,437.1 L614.9,440.1"/>
<path class="t" d="M610.4,434.6 L612.4,437.1 L618.9,437.1"/>
<path class="dk" d="M593.8,440.1 L597.5,437.3 L604.3,439.9 L600.5,443.9 Z"/>
<path d="M595.1,440.3 L597.7,438.3 L602.8,440.3 L600.3,442.7 Z" fill="#fff"/>
<path class="t" d="M593.2,440.1 L592.2,444.1 L600.3,447.7 L600.5,443.9"/>
<path class="t" d="M586.2,445.2 L589.2,446.7 L590.2,438.1"/>
<path class="o" d="M589.2,446.7 L587.2,454.2 L585.7,459.3"/>
<path class="o" d="M584.7,446.7 L587.2,447.7 L586.4,453.7 L584.2,452.7"/>
<path class="k" d="M585.2,449.2 L586.4,449.7"/>
<path class="t" d="M587.2,454.7 L599.3,456.7 L598.8,465.3"/>
<path class="o" d="M599.3,456.7 L600.3,455.2 L603.3,453.7 L603.5,466.3"/>
<path class="t" d="M601.3,456.2 L601.5,465.3"/>
<path class="t" d="M602.3,455.7 L602.5,465.8"/>
<path class="t" d="M585.7,459.3 L590.2,461.3 L589.2,465.3"/>
<path class="o" d="M587.2,460.3 L586.7,463.8"/>
<path class="k" d="M590.2,464.8 L597.3,466.8"/>
<ellipse class="o" rx="2.2" ry="4.3" transform="translate(613.4005037783376,455.0251889168766) rotate(15)"/>
<ellipse class="t" rx="1.6" ry="3.4" transform="translate(612.7959697732997,455.22670025188916) rotate(15)"/>
<path class="t" d="M610.4,459.3 C609.4,454.2 612.4,450.7 614.9,451.7"/>
<path class="o" d="M617.9,442.1 L619.2,442.6 L618.9,446.7"/>
<path class="k" d="M616.4,454.2 L617.9,454.7"/>
<path class="t" d="M606.9,470.8 L607.4,467.3 L615.9,461.3"/>
</svg>
</body>
</html>
